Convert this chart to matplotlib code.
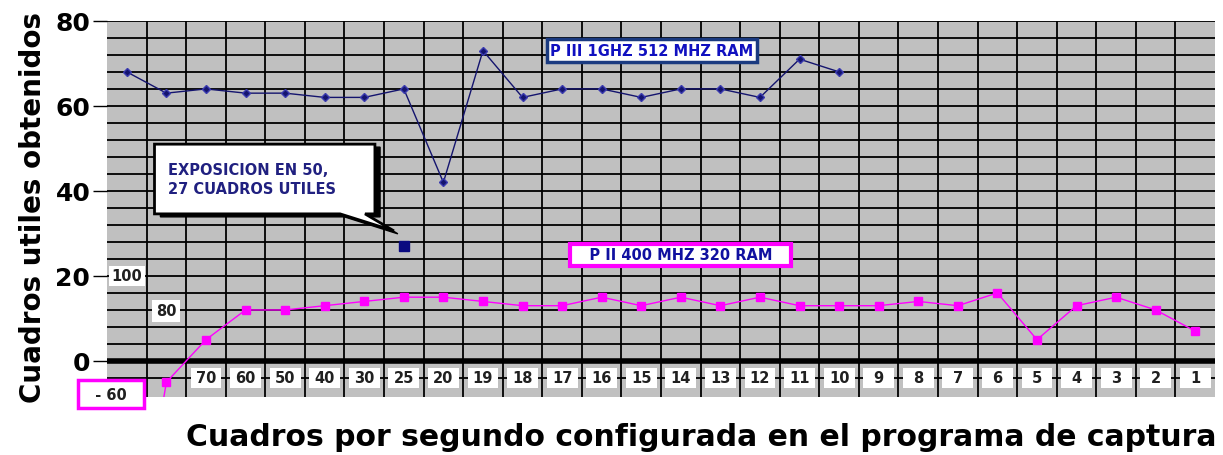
import matplotlib
matplotlib.use('Agg')
import matplotlib.pyplot as plt
import numpy as np
from matplotlib.patches import Polygon, Rectangle

# frames per second set in the capture program (x categories)
fps_labels = ['100', '80', '70', '60', '50', '40', '30', '25', '20', '19', '18', '17', '16', '15',
              '14', '13', '12', '11', '10', '9', '8', '7', '6', '5', '4', '3', '2', '1']
# useful frames obtained
piii_values = [68, 63, 64, 63, 63, 62, 62, 64, 42, 73, 62, 64, 64, 62, 64, 64, 62, 71, 68]
pii_values = [-60, -5, 5, 12, 12, 13, 14, 15, 15, 14, 13, 13, 15, 13, 15, 13, 15, 13, 13, 13,
              14, 13, 16, 5, 13, 15, 12, 7]
exposure_idx = 7
exposure_value = 27

navy = '#14146e'
magenta = '#ff00ff'

fig = plt.figure(figsize=(12.23, 4.56), dpi=100)
ax = fig.add_axes([0.0875, 0.127, 0.906, 0.825])
ax.set_facecolor('#c0c0c0')

n = len(fps_labels)
x = np.arange(n)
ax.set_xlim(-0.5, n - 0.5)
ax.set_ylim(-8.5, 80)

# grid
for b in np.arange(0.5, n - 0.5, 1):
    ax.axvline(b, color='black', lw=1.3, zorder=1)
for h in np.arange(-4, 81, 4):
    ax.axhline(h, color='black', lw=1.3, zorder=1)
ax.axhline(0, color='black', lw=4, zorder=2)

# series
ax.plot(x[:len(piii_values)], piii_values, color=navy, lw=1.0, marker='D', ms=4,
        markerfacecolor=navy, markeredgecolor='#3a3ab0', zorder=5)
ax.plot(x, pii_values, color=magenta, lw=1.0, marker='s', ms=6,
        markerfacecolor=magenta, markeredgecolor=magenta, zorder=5)
ax.plot([exposure_idx], [exposure_value], marker='s', ms=7, color='#0a0a80', zorder=6)

# category labels in the strip below zero
for i in range(2, n):
    ax.add_patch(Rectangle((i - 0.39, -6.3), 0.78, 4.6, facecolor='white', edgecolor='none', zorder=3))
    ax.text(i, -4, fps_labels[i], ha='center', va='center', fontsize=10.5, fontweight='bold',
            color='#202020', zorder=4)
ax.text(0, 20, fps_labels[0], ha='center', va='center', fontsize=10.5, fontweight='bold',
        color='#202020', zorder=4,
        bbox=dict(boxstyle='square,pad=0.2', facecolor='white', edgecolor='none'))
ax.text(1, 11.8, fps_labels[1], ha='center', va='center', fontsize=10.5, fontweight='bold',
        color='#202020', zorder=4,
        bbox=dict(boxstyle='square,pad=0.25', facecolor='white', edgecolor='none'))
ax.text(-0.4, -7.8, '  - 60  ', ha='center', va='center', fontsize=10.5, fontweight='bold',
        color='#202020', zorder=7, clip_on=False,
        bbox=dict(boxstyle='square,pad=0.45', facecolor='white', edgecolor=magenta, lw=2.5))

# legends as labelled boxes
ax.text(13.27, 73, 'P III 1GHZ 512 MHZ RAM', ha='center', va='center', fontsize=10.5,
        fontweight='bold', color='#1010c0', zorder=7,
        bbox=dict(boxstyle='square,pad=0.25', facecolor='white', edgecolor='#1a3a80', lw=2.5))
ax.text(14.0, 25, '   P II 400 MHZ 320 RAM   ', ha='center', va='center', fontsize=10.5,
        fontweight='bold', color='#1010a0', zorder=7,
        bbox=dict(boxstyle='square,pad=0.25', facecolor='white', edgecolor=magenta, lw=3))

# callout bubble
shadow = Polygon([(0.85, 50.3), (6.4, 50.3), (6.4, 33.9), (6.15, 33.9), (6.85, 29.9),
                  (5.5, 33.9), (0.85, 33.9)], closed=True, facecolor='black', edgecolor='black',
                 zorder=7)
bubble = Polygon([(0.7, 51), (6.27, 51), (6.27, 34.6), (6.02, 34.6), (6.75, 30.6),
                  (5.39, 34.6), (0.7, 34.6)], closed=True, facecolor='white', edgecolor='black',
                 lw=2, zorder=8)
ax.add_patch(shadow)
ax.add_patch(bubble)
ax.text(1.05, 42.8, 'EXPOSICION EN 50,\n27 CUADROS UTILES', ha='left', va='center',
        fontsize=10.5, fontweight='bold', color='#202080', linespacing=1.3, zorder=9)

# axes styling
ax.set_xticks([])
ax.set_yticks([0, 20, 40, 60, 80])
ax.set_yticklabels(['0', '20', '40', '60', '80'], fontsize=18, fontweight='bold')
ax.tick_params(axis='y', length=10, width=1, direction='out', pad=2)
for s in ax.spines.values():
    s.set_visible(False)

fig.text(0.027, 0.545, 'Cuadros utiles obtenidos', rotation=90, ha='center', va='center',
         fontsize=20, fontweight='bold')
fig.text(0.573, 0.04, 'Cuadros por segundo configurada en el programa de captura',
         ha='center', va='center', fontsize=21.5, fontweight='bold')

fig.savefig('out.png', dpi=100)
